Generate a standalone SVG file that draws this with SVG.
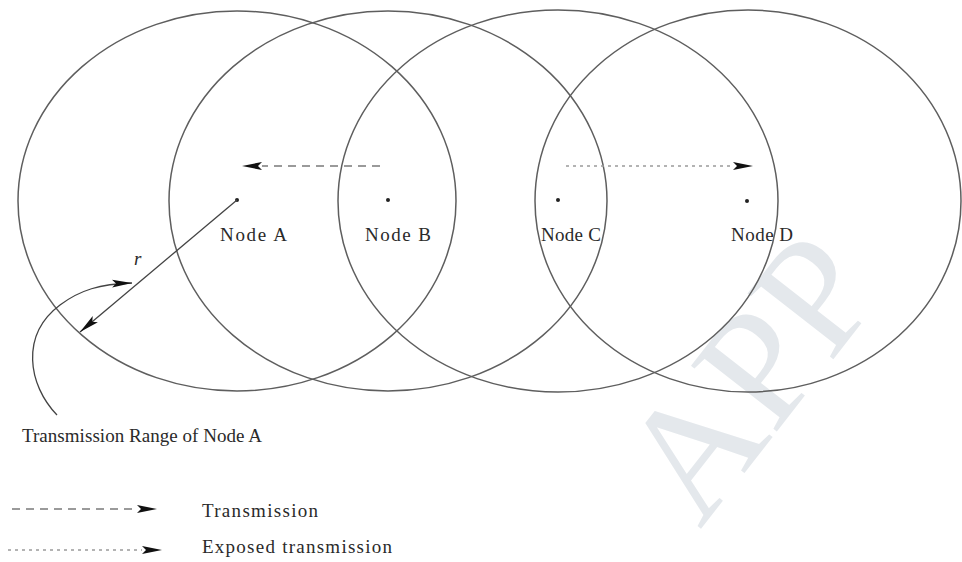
<svg xmlns="http://www.w3.org/2000/svg" width="962" height="562" viewBox="0 0 962 562">
  <defs>
    <marker id="head" viewBox="0 0 20 10" refX="20" refY="5" markerWidth="20" markerHeight="10" markerUnits="userSpaceOnUse" orient="auto">
      <path d="M0,1 L20,5 L0,9 L4,5 Z" fill="#111"/>
    </marker>
    <style>
      .range { fill: none; stroke: #5e5e5e; stroke-width: 1.5; }
      .dot { fill: #222; }
      .label { font-family: "Liberation Serif", "Times New Roman", serif; font-size: 19px; fill: #2a2a2a; }
      .tx { fill: none; stroke: #9a9a9a; stroke-width: 2; stroke-dasharray: 8 6; }
      .exp { fill: none; stroke: #9a9a9a; stroke-width: 1.6; stroke-dasharray: 3 4; }
      .solid { fill: none; stroke: #444; stroke-width: 1.3; }
      .wm { font-family: "Liberation Serif", "Times New Roman", serif; font-size: 165px; fill: #e4e8ec; }
    </style>
  </defs>

  <rect width="962" height="562" fill="#ffffff"/>

  <!-- background mark -->
  <text class="wm" transform="translate(700,530) rotate(-52)">APP</text>

  <!-- transmission ranges -->
  <g id="range-a"><ellipse class="range" cx="237" cy="201" rx="219" ry="190"/></g>
  <g id="range-b"><ellipse class="range" cx="388" cy="201" rx="219" ry="190"/></g>
  <g id="range-c"><ellipse class="range" cx="558" cy="201" rx="220" ry="191"/></g>
  <g id="range-d"><ellipse class="range" cx="748" cy="201" rx="213" ry="191"/></g>

  <!-- nodes -->
  <g id="node-a"><circle class="dot" cx="237" cy="200" r="2"/><text class="label" x="220" y="241" textLength="67">Node A</text></g>
  <g id="node-b"><circle class="dot" cx="388" cy="200" r="2"/><text class="label" x="365" y="241" textLength="66">Node B</text></g>
  <g id="node-c"><circle class="dot" cx="558" cy="200" r="2"/><text class="label" x="541" y="241" textLength="60">Node C</text></g>
  <g id="node-d"><circle class="dot" cx="747" cy="201" r="2"/><text class="label" x="731" y="241" textLength="62">Node D</text></g>

  <!-- connectors -->
  <g id="connectors">
    <path class="tx" d="M380,166 L262,166"/>
    <path d="M262,166 L242,166" stroke="none" marker-end="url(#head)"/>
    <path class="exp" d="M566,166 L734,166"/>
    <path d="M733,166 L753,166" stroke="none" marker-end="url(#head)"/>
    <!-- radius r -->
    <path class="solid" d="M237,200 L80,332" marker-end="url(#head)"/>
    <text class="label" x="134" y="265" font-style="italic" font-size="13">r</text>
    <!-- pointer to the range -->
    <path class="solid" d="M57,415 C28,385 20,335 60,305 C80,290 100,284 132,283" marker-end="url(#head)"/>
  </g>

  <text class="label" x="22" y="442" textLength="240">Transmission Range of Node A</text>

  <!-- legend -->
  <g id="legend">
    <path class="tx" d="M12,509 L138,509"/>
    <path d="M136,509 L157,509" stroke="none" marker-end="url(#head)"/>
    <text class="label" x="202" y="517" textLength="116">Transmission</text>
    <path class="exp" d="M8,550 L142,550"/>
    <path d="M140,550 L162,550" stroke="none" marker-end="url(#head)"/>
    <text class="label" x="202" y="553" textLength="190">Exposed transmission</text>
  </g>
</svg>
